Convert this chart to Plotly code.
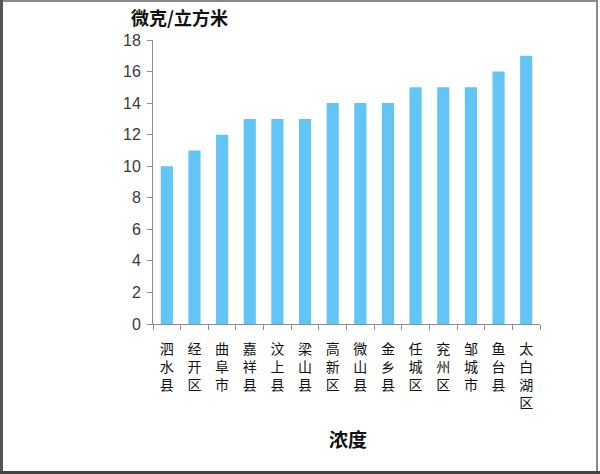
import plotly.graph_objects as go

# 各区县浓度
districts = ['泗水县', '经开区', '曲阜市', '嘉祥县', '汶上县', '梁山县', '高新区',
             '微山县', '金乡县', '任城区', '兖州区', '邹城市', '鱼台县', '太白湖区']
values = [10, 11, 12, 13, 13, 13, 14, 14, 14, 15, 15, 15, 16, 17]
y_ticks = [0, 2, 4, 6, 8, 10, 12, 14, 16, 18]

bar_color = '#62C5F5'
axis_color = '#8C8C8C'
cjk = 'Noto Sans CJK SC'

# vertical labels: one character per line
vertical_labels = ['<br>'.join(list(d)) for d in districts]

# plot area in pixels (for placing notes / frame)
L, R, T, B = 153, 540, 40, 324
W, H = 600, 474


def px_x(p):
    return (p - L) / (R - L)


def px_y(p):
    return (B - p) / (B - T)


fig = go.Figure()

fig.add_trace(go.Bar(
    x=districts,
    y=values,
    marker=dict(color=bar_color, line=dict(width=0)),
    showlegend=False
))

fig.update_layout(
    width=W, height=H,
    margin=dict(l=L, r=W - R, t=T, b=H - B),
    paper_bgcolor='white',
    plot_bgcolor='white',
    bargap=0.56,
    xaxis=dict(
        type='category',
        tickmode='array',
        tickvals=districts,
        ticktext=vertical_labels,
        tickangle=0,
        tickfont=dict(family=cjk, size=14, color='#111111'),
        showline=True, linecolor=axis_color, linewidth=1,
        ticks='outside', ticklen=5, tickcolor=axis_color,
        tickson='boundaries',
        ticklabelstandoff=12,
        showgrid=False, zeroline=False,
    ),
    yaxis=dict(
        range=[0, 18],
        tickvals=y_ticks,
        tickfont=dict(family='Liberation Sans', size=16, color='#3A3A3A'),
        showline=True, linecolor=axis_color, linewidth=1,
        ticks='outside', ticklen=5, tickcolor=axis_color,
        ticklabelstandoff=3,
        showgrid=False, zeroline=False,
    ),
    annotations=[
        dict(text='<b>微克/立方米</b>', xref='paper', yref='paper',
             x=px_x(179), y=px_y(17), xanchor='center', yanchor='middle',
             showarrow=False, font=dict(family=cjk, size=18, color='#111111')),
        dict(text='<b>浓度</b>', xref='paper', yref='paper',
             x=px_x(348), y=px_y(438), xanchor='center', yanchor='middle',
             showarrow=False, font=dict(family=cjk, size=19, color='#111111')),
    ],
    shapes=[
        # outer frame of the picture
        dict(type='rect', xref='paper', yref='paper',
             x0=px_x(1.5), x1=px_x(597), y0=px_y(472), y1=px_y(1),
             line=dict(color='#8A8A8A', width=2)),
        dict(type='line', xref='paper', yref='paper',
             x0=px_x(1.5), x1=px_x(1.5), y0=px_y(474), y1=px_y(0),
             line=dict(color='#555555', width=3)),
        dict(type='line', xref='paper', yref='paper',
             x0=px_x(0), x1=px_x(600), y0=px_y(472.5), y1=px_y(472.5),
             line=dict(color='#444444', width=3)),
    ],
)

fig.write_html("out.html", config={'displayModeBar': False},
               post_script="document.body.style.margin='0';")
